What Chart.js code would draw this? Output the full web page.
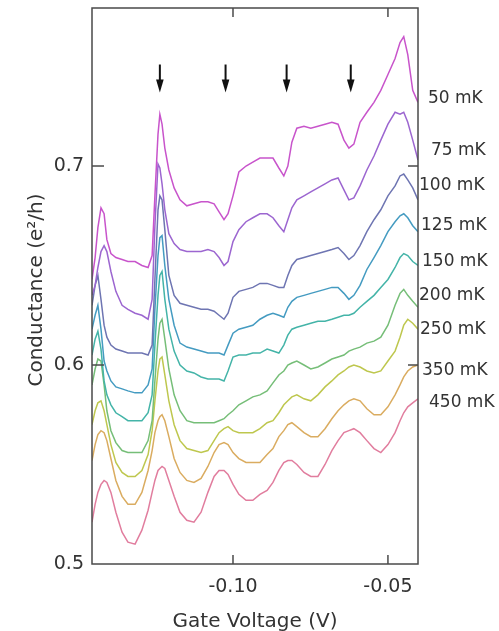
<!DOCTYPE html>
<html>
<head>
<meta charset="utf-8">
<script src="https://cdn.jsdelivr.net/npm/chart.js@4.4.1/dist/chart.umd.min.js"></script>
<style>
  html, body { margin: 0; padding: 0; background: #fff; }
  #wrap { width: 499px; height: 631px; }
</style>
</head>
<body>
<div id="wrap"><canvas id="chart" width="499" height="631"></canvas></div>
<script>
// Conductancia vs tensión de compuerta para varias temperaturas (curvas).

const volts = [-0.1455,-0.1445,-0.1436,-0.1426,-0.1416,-0.1407,-0.1394,-0.1378,-0.1358,-0.1339,
  -0.1316,-0.1294,-0.1274,-0.1261,-0.1252,-0.1242,-0.1236,-0.1229,-0.1220,-0.1207,
  -0.1190,-0.1171,-0.1149,-0.1126,-0.1103,-0.1081,-0.1061,-0.1045,-0.1029,-0.1016,
  -0.1000,-0.0981,-0.0958,-0.0936,-0.0913,-0.0890,-0.0871,-0.0852,-0.0836,-0.0823,
  -0.0810,-0.0794,-0.0771,-0.0749,-0.0726,-0.0703,-0.0681,-0.0661,-0.0642,-0.0626,
  -0.0610,-0.0590,-0.0568,-0.0545,-0.0523,-0.0500,-0.0477,-0.0461,-0.0449,-0.0436,
  -0.0420,-0.0403];

const g50 = [0.643,0.654,0.669,0.679,0.676,0.663,0.656,0.654,0.653,0.652,
  0.652,0.650,0.649,0.655,0.685,0.716,0.726,0.721,0.709,0.698,
  0.689,0.683,0.680,0.681,0.682,0.682,0.681,0.677,0.673,0.676,
  0.685,0.697,0.700,0.702,0.704,0.704,0.704,0.699,0.695,0.700,
  0.712,0.719,0.720,0.719,0.720,0.721,0.722,0.721,0.713,0.709,
  0.711,0.722,0.727,0.732,0.738,0.746,0.754,0.762,0.765,0.756,
  0.738,0.732];
const g75 = [0.635,0.640,0.649,0.657,0.660,0.657,0.647,0.637,0.630,0.628,
  0.626,0.625,0.623,0.633,0.670,0.701,0.699,0.691,0.678,0.666,
  0.661,0.658,0.657,0.657,0.657,0.658,0.657,0.654,0.650,0.652,
  0.662,0.668,0.672,0.674,0.676,0.676,0.674,0.670,0.667,0.673,
  0.679,0.683,0.685,0.687,0.689,0.691,0.693,0.694,0.688,0.683,
  0.684,0.690,0.698,0.705,0.713,0.721,0.727,0.726,0.727,0.722,
  0.713,0.703];
const g100 = [0.630,0.640,0.645,0.633,0.620,0.614,0.610,0.608,0.607,0.606,
  0.606,0.606,0.605,0.610,0.643,0.678,0.685,0.683,0.668,0.645,
  0.635,0.631,0.630,0.629,0.628,0.628,0.627,0.625,0.623,0.626,
  0.634,0.637,0.638,0.639,0.641,0.641,0.640,0.639,0.639,0.645,
  0.650,0.653,0.654,0.655,0.656,0.657,0.658,0.659,0.656,0.653,
  0.655,0.660,0.667,0.673,0.678,0.685,0.690,0.695,0.696,0.693,
  0.689,0.683];
const g125 = [0.618,0.625,0.630,0.618,0.602,0.597,0.592,0.589,0.588,0.587,
  0.586,0.586,0.590,0.598,0.628,0.655,0.664,0.665,0.650,0.633,
  0.620,0.611,0.609,0.608,0.607,0.606,0.606,0.606,0.605,0.610,
  0.616,0.618,0.619,0.620,0.623,0.625,0.626,0.625,0.624,0.629,
  0.632,0.634,0.635,0.636,0.637,0.638,0.639,0.639,0.636,0.633,
  0.635,0.640,0.648,0.654,0.660,0.667,0.672,0.675,0.676,0.674,
  0.670,0.667];
const g150 = [0.605,0.613,0.617,0.608,0.592,0.585,0.580,0.576,0.574,0.572,
  0.572,0.572,0.576,0.585,0.610,0.635,0.645,0.647,0.633,0.618,
  0.607,0.600,0.597,0.596,0.594,0.593,0.593,0.593,0.592,0.597,
  0.604,0.605,0.605,0.606,0.606,0.608,0.607,0.606,0.610,0.615,
  0.618,0.619,0.620,0.621,0.622,0.622,0.623,0.624,0.625,0.625,
  0.626,0.629,0.632,0.635,0.639,0.643,0.649,0.654,0.656,0.655,
  0.652,0.650];
const g200 = [0.590,0.598,0.603,0.602,0.590,0.577,0.567,0.561,0.557,0.556,
  0.556,0.556,0.562,0.572,0.592,0.613,0.621,0.623,0.613,0.598,
  0.585,0.577,0.572,0.571,0.571,0.571,0.571,0.572,0.573,0.575,
  0.577,0.580,0.582,0.584,0.585,0.587,0.591,0.595,0.597,0.600,
  0.601,0.602,0.600,0.598,0.599,0.601,0.603,0.604,0.605,0.607,
  0.608,0.609,0.611,0.612,0.614,0.620,0.630,0.636,0.638,0.635,
  0.632,0.629];
const g250 = [0.570,0.577,0.581,0.582,0.577,0.570,0.560,0.551,0.546,0.544,
  0.544,0.547,0.555,0.567,0.582,0.597,0.603,0.604,0.595,0.582,
  0.570,0.562,0.558,0.557,0.556,0.557,0.562,0.566,0.568,0.569,
  0.567,0.566,0.566,0.566,0.568,0.571,0.572,0.576,0.580,0.582,
  0.584,0.585,0.583,0.582,0.585,0.589,0.592,0.595,0.597,0.599,
  0.600,0.599,0.597,0.596,0.597,0.602,0.607,0.614,0.620,0.623,
  0.621,0.618];
const g350 = [0.552,0.560,0.565,0.567,0.566,0.562,0.553,0.542,0.534,0.530,
  0.530,0.536,0.547,0.557,0.566,0.572,0.574,0.575,0.572,0.564,
  0.553,0.546,0.542,0.541,0.543,0.549,0.556,0.560,0.561,0.560,
  0.556,0.553,0.551,0.551,0.551,0.555,0.558,0.564,0.567,0.570,
  0.571,0.569,0.566,0.564,0.564,0.568,0.573,0.577,0.580,0.582,
  0.583,0.582,0.578,0.575,0.575,0.579,0.585,0.590,0.594,0.597,
  0.599,0.600];
const g450 = [0.521,0.530,0.536,0.540,0.542,0.541,0.536,0.526,0.516,0.511,
  0.510,0.517,0.527,0.536,0.542,0.547,0.548,0.549,0.548,0.542,
  0.534,0.526,0.522,0.521,0.526,0.536,0.544,0.547,0.547,0.545,
  0.540,0.535,0.532,0.532,0.535,0.537,0.541,0.547,0.551,0.552,
  0.552,0.550,0.546,0.544,0.544,0.550,0.557,0.562,0.566,0.567,
  0.568,0.566,0.562,0.558,0.556,0.560,0.566,0.572,0.576,0.579,
  0.581,0.583];

const temps = ["50 mK", "75 mK", "100 mK", "125 mK", "150 mK", "200 mK", "250 mK", "350 mK", "450 mK"];
const labelG = [0.734, 0.708, 0.690, 0.670, 0.652, 0.635, 0.618, 0.597, 0.581]; // altura de cada etiqueta
const arrowVolts = [-0.1236, -0.1024, -0.0827, -0.0620];
const arrowTop = 0.751;
const arrowTip = 0.737;
const xTickVals = [-0.10, -0.05];
const yTickVals = [0.6, 0.7];

// estilo
const series = [g50, g75, g100, g125, g150, g200, g250, g350, g450];
const lineColors = ["#c854cb", "#9c66d0", "#6e75b2", "#449bc1", "#44b4a8", "#76be78", "#bec74e", "#daac60", "#e17d9e"];
const labelDx = [10, 13, 1, 3, 4, 1, 2, 4, 11];
const FONT = "'DejaVu Sans', sans-serif";
const INK = "#333";

const decor = {
  id: "decor",
  afterDatasetsDraw(chart) {
    const { ctx, chartArea: a, scales: { x, y } } = chart;
    const line = (x1, y1, x2, y2) => { ctx.beginPath(); ctx.moveTo(x1, y1); ctx.lineTo(x2, y2); ctx.stroke(); };
    ctx.save();

    // marco y marcas hacia adentro
    ctx.strokeStyle = "#4a4a4a";
    ctx.lineWidth = 1.5;
    ctx.strokeRect(a.left, a.top, a.right - a.left, a.bottom - a.top);
    for (const v of xTickVals) {
      const px = x.getPixelForValue(v);
      line(px, a.bottom, px, a.bottom - 9);
      line(px, a.top, px, a.top + 9);
    }
    for (const v of yTickVals) {
      const py = y.getPixelForValue(v);
      line(a.left, py, a.left + 12, py);
      line(a.right, py, a.right - 10, py);
    }

    // flechas
    ctx.strokeStyle = "#111";
    ctx.fillStyle = "#111";
    for (const v of arrowVolts) {
      const px = x.getPixelForValue(v);
      const top = y.getPixelForValue(arrowTop);
      const tip = y.getPixelForValue(arrowTip);
      ctx.lineWidth = 2;
      line(px, top, px, tip - 8);
      ctx.beginPath();
      ctx.moveTo(px - 3.8, tip - 13);
      ctx.lineTo(px + 3.8, tip - 13);
      ctx.lineTo(px, tip);
      ctx.closePath();
      ctx.fill();
    }

    // etiquetas de temperatura
    ctx.fillStyle = INK;
    ctx.font = "17px " + FONT;
    ctx.textBaseline = "middle";
    ctx.textAlign = "left";
    temps.forEach((t, i) => ctx.fillText(t, a.right + labelDx[i], y.getPixelForValue(labelG[i])));

    // títulos de ejes
    ctx.font = "20px " + FONT;
    ctx.textAlign = "center";
    ctx.textBaseline = "alphabetic";
    ctx.fillText("Gate Voltage (V)", (a.left + a.right) / 2, 627);
    ctx.translate(42, (a.top + a.bottom) / 2 + 4);
    ctx.rotate(-Math.PI / 2);
    ctx.fillText("Conductance (e\u00B2/h)", 0, 0);
    ctx.restore();
  },
};

new Chart(document.getElementById("chart"), {
  type: "line",
  data: {
    datasets: series.map((g, i) => ({
      label: temps[i],
      data: volts.map((v, j) => ({ x: v, y: g[j] })),
      borderColor: lineColors[i],
      borderWidth: 1.5,
      pointRadius: 0,
      tension: 0,
      fill: false,
    })),
  },
  options: {
    responsive: false,
    animation: false,
    layout: { padding: { top: 8, right: 81, left: 0, bottom: 0 } },
    plugins: { legend: { display: false }, tooltip: { enabled: false } },
    scales: {
      x: {
        type: "linear",
        min: -0.1455,
        max: -0.0403,
        afterFit: (s) => { s.height = 67; s.paddingLeft = 0; s.paddingRight = 0; },
        grid: { display: false, drawTicks: false },
        border: { display: false },
        ticks: {
          stepSize: 0.05,
          includeBounds: false,
          padding: 12,
          color: INK,
          font: { family: "DejaVu Sans", size: 19 },
          callback: (v) => v.toFixed(2),
        },
      },
      y: {
        type: "linear",
        min: 0.5,
        max: 0.7794,
        afterFit: (s) => { s.width = 92; s.paddingTop = 0; s.paddingBottom = 0; },
        grid: { display: false, drawTicks: false },
        border: { display: false },
        ticks: {
          stepSize: 0.1,
          includeBounds: false,
          padding: 8,
          color: INK,
          font: { family: "DejaVu Sans", size: 19 },
          callback: (v) => v.toFixed(1),
        },
      },
    },
  },
  plugins: [decor],
});
</script>
</body>
</html>
